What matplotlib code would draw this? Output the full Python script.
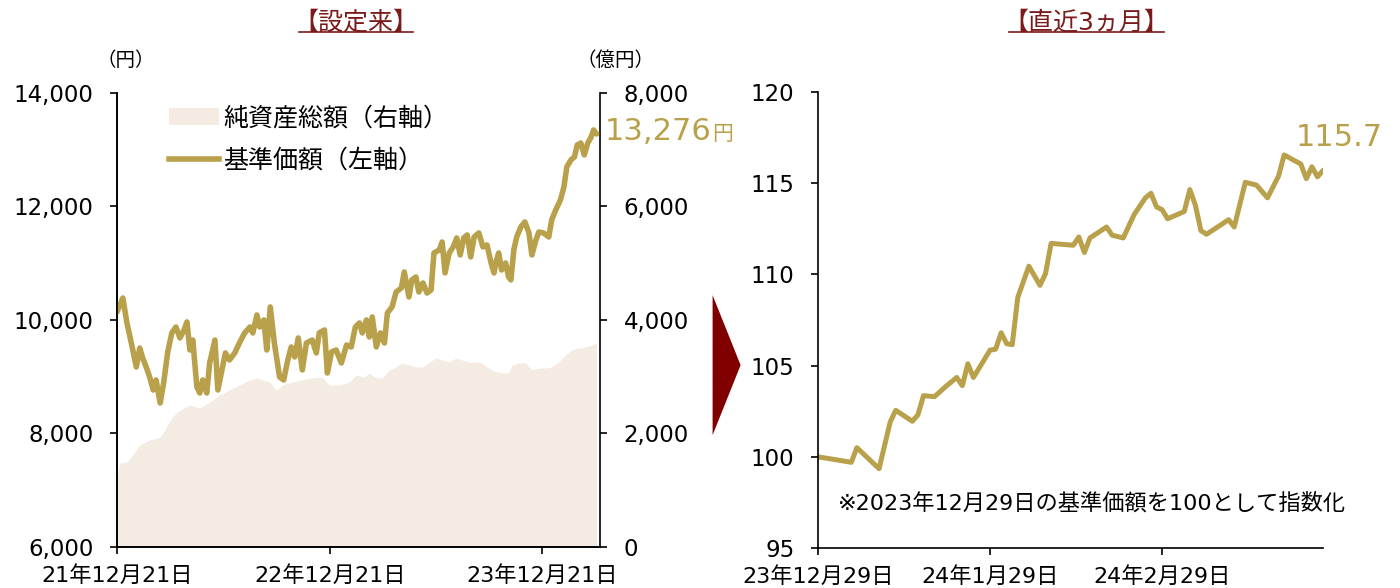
import matplotlib
matplotlib.use("Agg")
import matplotlib.pyplot as plt
import pandas as pd
from matplotlib.lines import Line2D
from matplotlib.patches import Patch, Polygon

# latin digits in DejaVu (Verdana-like), Japanese falls back to Noto CJK
plt.rcParams["font.family"] = ["DejaVu Sans", "Noto Sans CJK JP"]

# ---- data: since inception (days counted from 2021-12-21) ----
start_date = pd.Timestamp("2021-12-21")
nav_days = [0, 10, 17, 26, 33, 39, 44, 50, 56, 62, 67, 74, 80, 87, 94, 101, 108, 115, 120, 125,
            130, 137, 142, 147, 154, 159, 168, 173, 180, 186, 193, 202, 210, 219, 228, 233, 240, 245,
            252, 257, 263, 270, 279, 286, 293, 299, 305, 311, 318, 325, 335, 342, 347, 356, 361, 368,
            376, 385, 394, 402, 409, 416, 421, 428, 433, 438, 445, 452, 459, 464, 472, 479, 488, 493,
            501, 506, 513, 518, 525, 532, 539, 544, 553, 558, 563, 570, 577, 583, 589, 595, 601, 607,
            613, 621, 628, 635, 642, 647, 650, 655, 660, 667, 672, 676, 681, 686, 693, 700, 707, 712,
            719, 724, 732, 741, 746, 753, 761, 767, 772, 779, 785, 790, 796, 802, 808, 813, 818, 823]
nav_values = [10141, 10387, 9947, 9524, 9172, 9506, 9330, 9172, 8995, 8766, 8943, 8537, 8890, 9436,
              9771, 9876, 9683, 9824, 9965, 9471, 9647, 8819, 8713, 8943, 8713, 9242, 9647, 8766,
              9119, 9418, 9295, 9418, 9594, 9771, 9876, 9771, 10088, 9876, 10000, 9471, 10229, 9594,
              8995, 8943, 9295, 9524, 9348, 9683, 9119, 9594, 9647, 9418, 9771, 9824, 9066, 9436,
              9471, 9242, 9559, 9524, 9876, 9947, 9771, 10000, 9700, 10053, 9524, 9771, 9594, 10123,
              10229, 10493, 10564, 10846, 10405, 10705, 10757, 10493, 10652, 10475, 10528, 11180,
              11233, 11374, 10828, 11180, 11286, 11445, 11145, 11445, 11497, 11110, 11462, 11533,
              11286, 11321, 11004, 10828, 11004, 11180, 10881, 11004, 10757, 10705, 11233, 11462,
              11638, 11727, 11533, 11145, 11409, 11550, 11533, 11462, 11762, 11939, 12114, 12343,
              12696, 12819, 12872, 13083, 13118, 12907, 13118, 13206, 13347, 13276]

aum_days = [0, 5, 17, 27, 39, 56, 74, 82, 91, 103, 125, 142, 159, 176, 193, 210, 228, 240, 250, 262,
            274, 284, 301, 318, 335, 352, 364, 382, 399, 411, 424, 433, 445, 455, 467, 479, 489, 501,
            513, 524, 536, 548, 558, 570, 582, 592, 604, 616, 626, 638, 650, 660, 672, 678, 690, 701,
            712, 724, 736, 746, 758, 770, 780, 792, 804, 814, 823]
aum_values = [1233, 1480, 1498, 1621, 1797, 1885, 1938, 2062, 2238, 2379, 2502, 2449, 2555, 2678,
              2766, 2854, 2943, 2978, 2943, 2907, 2766, 2854, 2907, 2943, 2978, 2995, 2854, 2854,
              2907, 3031, 2995, 3066, 2978, 2978, 3119, 3172, 3242, 3207, 3172, 3172, 3260, 3330,
              3295, 3260, 3330, 3295, 3260, 3260, 3242, 3154, 3084, 3066, 3066, 3207, 3242, 3242,
              3119, 3154, 3154, 3172, 3260, 3383, 3471, 3506, 3524, 3559, 3594]

# ---- data: last 3 months (index, 2023-12-29 = 100) ----
recent_start = pd.Timestamp("2023-12-29")
recent_days = [0, 6, 7, 11, 13, 14, 17, 18, 19, 21, 23, 25, 26, 27, 28, 31, 32, 33, 34, 35, 36,
               38, 40, 41, 42, 46, 47, 48, 49, 52, 53, 55, 57, 59, 60, 61, 62, 63, 66, 67, 68, 69,
               70, 74, 75, 77, 79, 81, 83, 84, 87, 88, 89, 90, 91]
recent_index = [100.0, 99.7, 100.5, 99.35, 101.9, 102.55, 101.95, 102.3, 103.35, 103.3, 103.85,
                104.35, 103.9, 105.1, 104.35, 105.85, 105.9, 106.8, 106.2, 106.15, 108.75, 110.45,
                109.4, 110.05, 111.7, 111.6, 112.05, 111.2, 112.0, 112.6, 112.15, 112.0, 113.3,
                114.2, 114.45, 113.7, 113.55, 113.05, 113.45, 114.65, 113.8, 112.4, 112.2, 113.0,
                112.6, 115.05, 114.9, 114.2, 115.4, 116.55, 116.05, 115.25, 115.9, 115.35, 115.7]

nav_dates = start_date + pd.to_timedelta(nav_days, unit="D")
aum_dates = start_date + pd.to_timedelta(aum_days, unit="D")
recent_dates = recent_start + pd.to_timedelta(recent_days, unit="D")

gold = "#B9A04B"
fill_col = "#F4EBE2"
title_col = "#7A1A1A"
fs = 16.5

fig = plt.figure(figsize=(14, 5.88), dpi=100)

# ---------------- left panel ----------------
ax = fig.add_axes([0.0836, 0.0697, 0.345, 0.7723])
ax2 = ax.twinx()
ax2.fill_between(aum_dates, aum_values, 0, color=fill_col, linewidth=0)
ax.plot(nav_dates, nav_values, color=gold, linewidth=4.0, solid_capstyle="round",
        solid_joinstyle="round")
ax.set_zorder(ax2.get_zorder() + 1)
ax.patch.set_visible(False)

ax.set_ylim(6000, 14000)
ax2.set_ylim(0, 8000)
ax.set_xlim(start_date, pd.Timestamp("2024-03-29"))
ax.set_yticks(range(6000, 14001, 2000))
ax.set_yticklabels([f"{v:,}" for v in range(6000, 14001, 2000)])
ax2.set_yticks(range(0, 8001, 2000))
ax2.set_yticklabels([f"{v:,}" for v in range(0, 8001, 2000)])
left_ticks = [pd.Timestamp("2021-12-21"), pd.Timestamp("2022-12-21"), pd.Timestamp("2023-12-21")]
ax.set_xticks(left_ticks)
ax.set_xticklabels([f"{d.year % 100}年{d.month}月{d.day}日" for d in left_ticks])

for a in (ax, ax2):
    a.spines["top"].set_visible(False)
    for s in a.spines.values():
        s.set_linewidth(1.2)
    a.tick_params(axis="y", labelsize=fs, length=5, width=1.2, pad=12)
    a.tick_params(axis="x", labelsize=16, length=5, width=1.2, pad=8)
ax.spines["right"].set_visible(False)

ax.text(0.017, 1.05, "（円）", transform=ax.transAxes, fontsize=14, ha="center", va="bottom")
ax.text(1.031, 1.05, "（億円）", transform=ax.transAxes, fontsize=14, ha="center", va="bottom")

handles = [Patch(facecolor=fill_col, edgecolor="none"),
           Line2D([0], [0], color=gold, linewidth=4.0)]
ax.legend(handles, ["純資産総額（右軸）", "基準価額（左軸）"], loc="upper left",
          bbox_to_anchor=(0.06, 1.02), frameon=False, fontsize=18, handlelength=2.0,
          handletextpad=0.2, labelspacing=0.72)

last_label = ax.annotate(f"{nav_values[-1]:,}", xy=(nav_dates[-1], nav_values[-1]),
                         xytext=(6, 2), textcoords="offset points", ha="left", va="center",
                         fontsize=22, color=gold)

# ---------------- right panel ----------------
bx = fig.add_axes([0.5843, 0.068, 0.3607, 0.7755])
bx.plot(recent_dates, recent_index, color=gold, linewidth=3.6, solid_capstyle="round",
        solid_joinstyle="round")
bx.set_ylim(95, 120)
bx.set_yticks(range(95, 121, 5))
bx.set_xlim(recent_start, pd.Timestamp("2024-03-29"))
right_ticks = [pd.Timestamp("2023-12-29"), pd.Timestamp("2024-01-29"), pd.Timestamp("2024-02-29")]
bx.set_xticks(right_ticks)
bx.set_xticklabels([f"{d.year % 100}年{d.month}月{d.day}日" for d in right_ticks])
bx.spines["top"].set_visible(False)
bx.spines["right"].set_visible(False)
for s in bx.spines.values():
    s.set_linewidth(1.2)
bx.tick_params(axis="y", labelsize=fs, length=5, width=1.2, pad=12)
bx.tick_params(axis="x", labelsize=16, length=5, width=1.2, pad=8)
bx.annotate(f"{recent_index[-1]:.1f}", xy=(recent_dates[-1], recent_index[-1]),
            xytext=(12, 24), textcoords="offset points", ha="center", va="center",
            fontsize=22, color=gold)
bx.text(0.04, 0.10, "※2023年12月29日の基準価額を100として指数化", transform=bx.transAxes,
        fontsize=16, ha="left", va="center")

# arrow between panels
fig.patches.append(Polygon([(0.509, 0.498), (0.529, 0.379), (0.509, 0.260)], closed=True,
                           transform=fig.transFigure, facecolor="#800000", edgecolor="none"))

# titles with underline
t1 = fig.text(0.254, 0.962, "【設定来】", fontsize=18, color=title_col, ha="center", va="center")
t2 = fig.text(0.776, 0.962, "【直近3ヵ月】", fontsize=18, color=title_col, ha="center", va="center")

fig.canvas.draw()
r = fig.canvas.get_renderer()
inv = fig.transFigure.inverted()
for t in (t1, t2):
    bb = t.get_window_extent(r)
    (x0, y0), (x1, y1) = inv.transform([(bb.x0, bb.y0), (bb.x1, bb.y0)])
    fig.lines.append(Line2D([x0 + 0.004, x1 - 0.004], [y0 + 0.004, y0 + 0.004],
                            transform=fig.transFigure, color=title_col, linewidth=1.2))

# small 円 after the last value
bb = last_label.get_window_extent(r)
fx, fy = inv.transform((bb.x1, (bb.y0 + bb.y1) / 2))
fig.text(fx, fy - 0.004, "円", fontsize=15, color=gold, ha="left", va="center")

fig.savefig("out.png", dpi=100)
